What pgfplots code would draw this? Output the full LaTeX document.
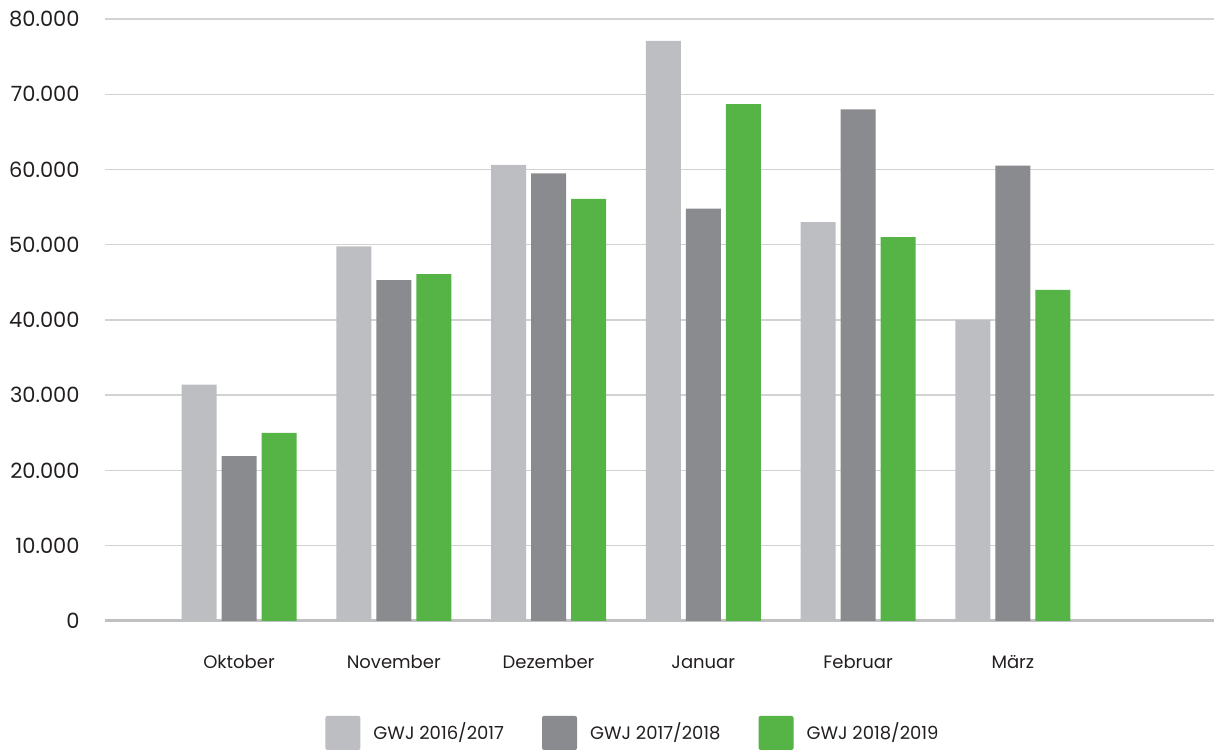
\documentclass[border=0pt]{standalone}
\usepackage{pgfplots}
\pgfplotsset{compat=1.18}
\usepackage{fontspec}
\setmainfont{Poppins}
\definecolor{c1}{HTML}{BDBEC1}
\definecolor{c2}{HTML}{8A8B8F}
\definecolor{c3}{HTML}{56B447}
\definecolor{gridc}{HTML}{D2D2D2}
\definecolor{axc}{HTML}{BFC0C2}
\definecolor{txt}{HTML}{231F20}
\begin{document}
\begin{tikzpicture}
\begin{axis}[name=ax, scale only axis, width=554.5pt, height=301pt,
 ymin=0, ymax=80000, xmin=-0.866, xmax=6.30,
 ybar=2.5pt, bar width=17.5pt,
 axis x line*=bottom, axis y line*=left,
 x axis line style={draw=axc, line width=1.5pt, -},
 y axis line style={draw=none},
 major tick length=0pt,
 ymajorgrids, grid style={gridc, line width=0.75pt},
 ytick={0,10000,20000,30000,40000,50000,60000,70000,80000},
 yticklabels={0,10.000,20.000,30.000,40.000,50.000,60.000,70.000,80.000},
 scaled y ticks=false,
 xtick={0,1,2,3,4,5},
 xticklabels={Oktober,November,Dezember,Januar,Februar,März},
 yticklabel style={font=\fontsize{10.5}{12}\selectfont, anchor=east, inner sep=0pt, xshift=-12.5pt, text=txt},
 xticklabel style={font=\fontsize{9}{11}\selectfont, anchor=base, inner sep=0pt, yshift=-24pt, text=txt},
 legend columns=3,
 legend style={at={(0.477,-0.186)}, anchor=center, draw=none, font=\fontsize{9}{11}\selectfont, text=txt,
   /tikz/every even column/.append style={column sep=17pt},
   /tikz/every odd column/.append style={column sep=4.5pt}},
 legend image code/.code={\fill[#1, rounded corners=1pt] (0pt,-8.5pt) rectangle (17.5pt,8.5pt);},
]
\addplot[fill=c1, draw=none] coordinates {(0,31400) (1,49800) (2,60600) (3,77100) (4,53000) (5,40000)};
\addplot[fill=c2, draw=none] coordinates {(0,21900) (1,45300) (2,59500) (3,54800) (4,68000) (5,60500)};
\addplot[fill=c3, draw=none] coordinates {(0,25000) (1,46100) (2,56100) (3,68700) (4,51000) (5,44000)};
\legend{GWJ 2016/2017, GWJ 2017/2018, GWJ 2018/2019}
\end{axis}
\pgfresetboundingbox
\path ([shift={(-52.5pt,-65pt)}]ax.south west) rectangle ([yshift=9.5pt]ax.north east);
\end{tikzpicture}
\end{document}
